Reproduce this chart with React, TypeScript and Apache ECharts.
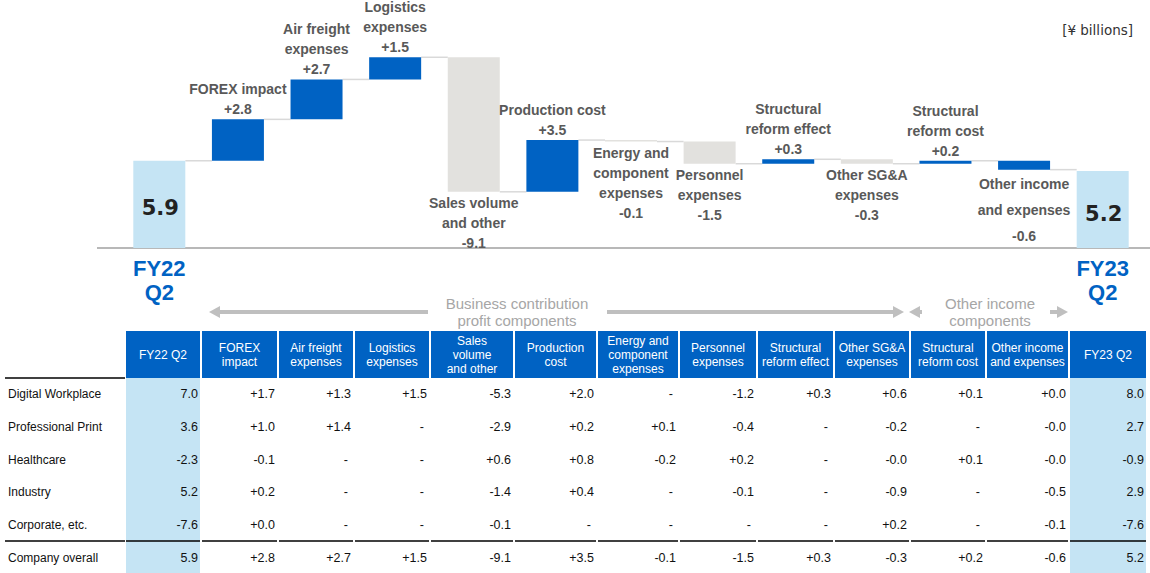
import React, { useEffect, useRef } from 'react';
import * as echarts from 'echarts';

// ---------- Data ----------
const categories = [
  'FY22 Q2', 'FOREX impact', 'Air freight expenses', 'Logistics expenses',
  'Sales volume and other', 'Production cost', 'Energy and component expenses',
  'Personnel expenses', 'Structural reform effect', 'Other SG&A expenses',
  'Structural reform cost', 'Other income and expenses', 'FY23 Q2',
];
const deltas = [5.9, 2.8, 2.7, 1.5, -9.1, 3.5, -0.1, -1.5, 0.3, -0.3, 0.2, -0.6, 5.2];
const isTotal = [true, false, false, false, false, false, false, false, false, false, false, false, true];
const barKind = ['total', 'up', 'up', 'up', 'down', 'up', 'down', 'down', 'up', 'down', 'up', 'up', 'total'];
const barLabels = [
  '', 'FOREX impact', 'Air freight\nexpenses', 'Logistics\nexpenses',
  'Sales volume\nand other', 'Production cost', 'Energy and\ncomponent\nexpenses',
  'Personnel\nexpenses', 'Structural\nreform effect', 'Other SG&A\nexpenses',
  'Structural\nreform cost', 'Other income\nand expenses', '',
];
const xTickLabels = ['FY22\nQ2', '', '', '', '', '', '', '', '', '', '', '', 'FY23\nQ2'];
const unitLabel = '[¥ billions]';
const groupLabels = ['Business contribution\nprofit components', 'Other income\ncomponents'];

const tableHeaders = [
  'FY22 Q2', 'FOREX\nimpact', 'Air freight\nexpenses', 'Logistics\nexpenses',
  'Sales\nvolume\nand other', 'Production\ncost', 'Energy and\ncomponent\nexpenses',
  'Personnel\nexpenses', 'Structural\nreform effect', 'Other SG&A\nexpenses',
  'Structural\nreform cost', 'Other income\nand expenses', 'FY23 Q2',
];
const rowLabels = ['Digital Workplace', 'Professional Print', 'Healthcare', 'Industry', 'Corporate, etc.', 'Company overall'];
const rowDigitalWorkplace = ['7.0', '+1.7', '+1.3', '+1.5', '-5.3', '+2.0', '-', '-1.2', '+0.3', '+0.6', '+0.1', '+0.0', '8.0'];
const rowProfessionalPrint = ['3.6', '+1.0', '+1.4', '-', '-2.9', '+0.2', '+0.1', '-0.4', '-', '-0.2', '-', '-0.0', '2.7'];
const rowHealthcare = ['-2.3', '-0.1', '-', '-', '+0.6', '+0.8', '-0.2', '+0.2', '-', '-0.0', '+0.1', '-0.0', '-0.9'];
const rowIndustry = ['5.2', '+0.2', '-', '-', '-1.4', '+0.4', '-', '-0.1', '-', '-0.9', '-', '-0.5', '2.9'];
const rowCorporate = ['-7.6', '+0.0', '-', '-', '-0.1', '-', '-', '-', '-', '+0.2', '-', '-0.1', '-7.6'];
const rowCompany = ['5.9', '+2.8', '+2.7', '+1.5', '-9.1', '+3.5', '-0.1', '-1.5', '+0.3', '-0.3', '+0.2', '-0.6', '5.2'];
const tableRows = [rowDigitalWorkplace, rowProfessionalPrint, rowHealthcare, rowIndustry, rowCorporate, rowCompany];

// ---------- Layout / style constants ----------
const BLUE = '#0062C3';
const LIGHT_BLUE = '#C5E4F4';
const GRAY_BAR = '#E2E1DE';
const LABEL_GRAY = '#595959';
const FONT = "'Liberation Sans', Arial, sans-serif";
const colL = [126, 202, 279, 355, 431, 515, 598, 680, 758, 835, 911, 987, 1070];
const colR = [200, 277, 353, 429, 513, 596, 678, 756, 833, 909, 985, 1068, 1146];
const rowY = [394, 427, 460, 492, 525, 558];
const headerTop = 331;
const headerBottom = 378;
const sepY = 541;

function buildWaterfall() {
  let run = 0;
  const base: number[] = [];
  const height: number[] = [];
  const ends: number[] = [];
  deltas.forEach((d, i) => {
    if (isTotal[i]) {
      base.push(0);
      height.push(d);
      run = d;
    } else {
      const start = run;
      run = Math.round((run + d) * 100) / 100;
      base.push(Math.min(start, run));
      height.push(Math.abs(d));
    }
    ends.push(run);
  });
  return { base, height, ends };
}

function fmtDelta(d: number) {
  return (d >= 0 ? '+' : '-') + Math.abs(d).toFixed(1);
}

function buildTableGraphics() {
  const els: any[] = [];
  // light blue columns
  [0, 12].forEach((j) => {
    els.push({
      type: 'rect', z: 1,
      shape: { x: colL[j], y: headerBottom, width: colR[j] - colL[j], height: 573 - headerBottom },
      style: { fill: LIGHT_BLUE },
    });
  });
  // header
  tableHeaders.forEach((h, j) => {
    els.push({
      type: 'rect', z: 1,
      shape: { x: colL[j], y: headerTop, width: colR[j] - colL[j], height: headerBottom - headerTop },
      style: { fill: BLUE },
    });
    els.push({
      type: 'text', z: 2,
      style: {
        text: h, x: (colL[j] + colR[j]) / 2, y: (headerTop + headerBottom) / 2,
        fill: '#fff', font: `12px ${FONT}`, lineHeight: 14,
        align: 'center', verticalAlign: 'middle', textAlign: 'center', textVerticalAlign: 'middle',
      },
    });
  });
  // line under header (label column)
  els.push({
    type: 'line', z: 2,
    shape: { x1: 5, y1: headerBottom, x2: 125, y2: headerBottom },
    style: { stroke: '#000', lineWidth: 1.5 },
  });
  // separator before total row
  const segs = [[5, 125]].concat(colL.map((l, j) => [l, colR[j]]));
  segs.forEach(([a, b]) => {
    els.push({
      type: 'line', z: 2,
      shape: { x1: a, y1: sepY, x2: b, y2: sepY },
      style: { stroke: '#000', lineWidth: 1.5 },
    });
  });
  // rows
  tableRows.forEach((row, r) => {
    els.push({
      type: 'text', z: 2,
      style: {
        text: rowLabels[r], x: 8, y: rowY[r], fill: '#111', font: `12px ${FONT}`,
        align: 'left', verticalAlign: 'middle', textAlign: 'left', textVerticalAlign: 'middle',
      },
    });
    row.forEach((v, j) => {
      els.push({
        type: 'text', z: 2,
        style: {
          text: v, x: colR[j] - (v === '-' ? 5 : 2), y: rowY[r], fill: '#111', font: `12.5px ${FONT}`,
          align: 'right', verticalAlign: 'middle', textAlign: 'right', textVerticalAlign: 'middle',
        },
      });
    });
  });
  return els;
}

function buildArrowGraphics() {
  const c = '#BFBFBF';
  const ay = 312;
  const els: any[] = [];
  const line = (x1: number, x2: number) => ({
    type: 'line', z: 1, shape: { x1, y1: ay, x2, y2: ay }, style: { stroke: c, lineWidth: 4 },
  });
  const head = (tip: number, dir: number) => ({
    type: 'polygon', z: 1,
    shape: { points: [[tip, ay], [tip + dir * 11, ay - 6], [tip + dir * 11, ay + 6]] },
    style: { fill: c },
  });
  els.push(line(216, 428), head(209, 1));
  els.push(line(607, 896), head(904, -1));
  els.push(line(918, 922), head(909, 1));
  els.push(line(1050, 1058), head(1068, -1));
  els.push({
    type: 'text', z: 1,
    style: {
      text: groupLabels[0], x: 517, y: 312, fill: '#A6A6A6', font: `15px ${FONT}`, lineHeight: 17,
      align: 'center', verticalAlign: 'middle', textAlign: 'center', textVerticalAlign: 'middle',
    },
  });
  els.push({
    type: 'text', z: 1,
    style: {
      text: groupLabels[1], x: 990, y: 312, fill: '#A6A6A6', font: `15px ${FONT}`, lineHeight: 17,
      align: 'center', verticalAlign: 'middle', textAlign: 'center', textVerticalAlign: 'middle',
    },
  });
  return els;
}

export default function App() {
  const ref = useRef<HTMLDivElement>(null);
  useEffect(() => {
    if (!ref.current) return;
    const chart = echarts.init(ref.current, undefined, { renderer: 'svg' });
    const { base, height, ends } = buildWaterfall();
    const BAR_W = 52;

    const valueData = height.map((h, i) => {
      const kind = barKind[i];
      const color = kind === 'total' ? LIGHT_BLUE : kind === 'up' ? BLUE : GRAY_BAR;
      let label: any;
      if (isTotal[i]) {
        label = {
          show: true, position: 'inside', offset: [1, 4],
          formatter: () => deltas[i].toFixed(1),
          fontSize: 21, fontWeight: 'bold', color: '#222', fontFamily: "'DejaVu Sans', sans-serif",
        };
      } else {
        const below = deltas[i] < 0;
        const lh = i === 11 ? 26 : 20;
        label = {
          show: true, position: below ? 'bottom' : 'top', distance: below ? 1 : 0,
          formatter: () => barLabels[i] + '\n' + fmtDelta(deltas[i]),
          fontSize: 14, fontWeight: 'bold', color: LABEL_GRAY, fontFamily: FONT,
          lineHeight: lh, align: 'center',
        };
      }
      return { value: h, itemStyle: { color }, label };
    });

    const connectorData = ends.slice(0, ends.length - 1).map((e, i) => [i, e]);

    const option: any = {
      animation: false,
      grid: { left: 120, right: 8, top: 41, bottom: 325, containLabel: false },
      xAxis: {
        type: 'category',
        data: categories,
        axisLine: { show: false },
        axisTick: { show: false },
        axisLabel: {
          interval: 0, margin: 8,
          formatter: (_v: string, idx: number) => xTickLabels[idx],
          fontSize: 22, fontWeight: 'bold', color: BLUE, lineHeight: 24, fontFamily: FONT,
        },
      },
      yAxis: { type: 'value', min: 0, max: 14, show: false, splitLine: { show: false } },
      series: [
        {
          type: 'custom',
          coordinateSystem: 'cartesian2d',
          z: 1,
          silent: true,
          encode: { x: 0, y: 1 },
          data: connectorData,
          renderItem: (params: any, api: any) => {
            const i = api.value(0);
            const lvl = api.value(1);
            const p1 = api.coord([i, lvl]);
            const p2 = api.coord([i + 1, lvl]);
            return {
              type: 'line',
              shape: { x1: p1[0] + BAR_W / 2, y1: p1[1], x2: p2[0] - BAR_W / 2, y2: p2[1] },
              style: { stroke: '#D9D9D9', lineWidth: 1.5 },
            };
          },
        },
        {
          type: 'bar', stack: 'w', barWidth: BAR_W, z: 2, silent: true,
          itemStyle: { color: 'transparent' },
          data: base,
        },
        {
          type: 'bar', stack: 'w', barWidth: BAR_W, z: 3,
          data: valueData,
        },
      ],
      graphic: [
        {
          type: 'line', z: 0,
          shape: { x1: 97, y1: 248, x2: 1150, y2: 248 },
          style: { stroke: '#A0A0A0', lineWidth: 1.5 },
        },
        {
          type: 'text',
          style: {
            text: unitLabel, x: 1133, y: 30, fill: '#333', font: "13.5px 'DejaVu Sans', sans-serif",
            align: 'right', verticalAlign: 'middle', textAlign: 'right', textVerticalAlign: 'middle',
          },
        },
        ...buildArrowGraphics(),
        ...buildTableGraphics(),
      ],
    };
    chart.setOption(option);
    return () => chart.dispose();
  }, []);
  return (
    <div
      ref={ref}
      style={{ position: 'absolute', left: 0, top: 0, width: 1150, height: 573, background: '#fff' }}
    />
  );
}
